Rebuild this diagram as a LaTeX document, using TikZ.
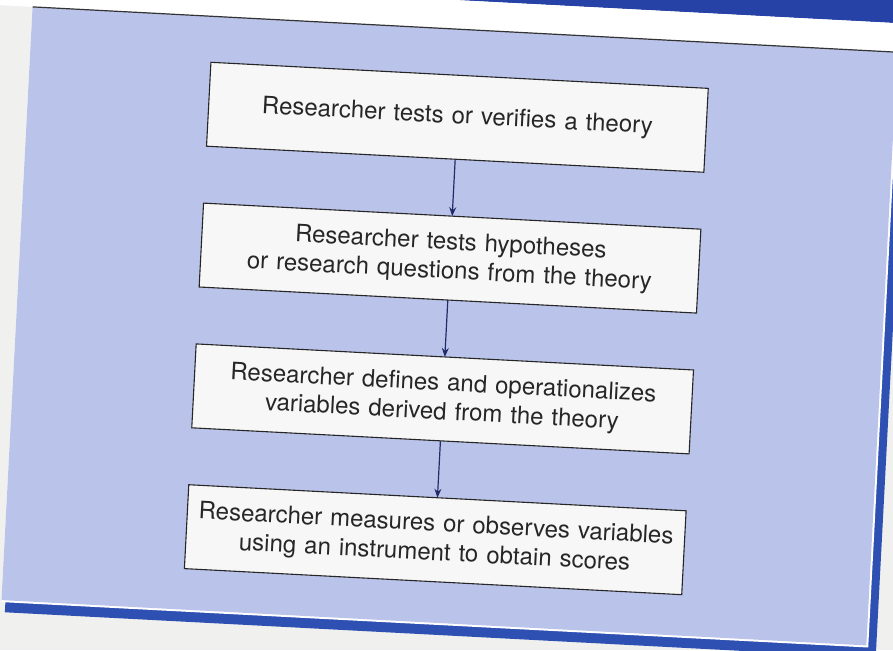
\documentclass[tikz,border=0pt]{standalone}
\usepackage{fontspec}
\setmainfont{TeX Gyre Heros}
\usetikzlibrary{arrows.meta,positioning}
\definecolor{panel}{RGB}{186,195,233}
\definecolor{frame}{RGB}{46,80,178}
\definecolor{header}{RGB}{38,66,166}
\definecolor{arrowblue}{RGB}{32,44,104}
\definecolor{page}{RGB}{240,240,238}

\begin{document}
\begin{tikzpicture}[
    x=1pt, y=1pt,
    research step/.style={align=center, text width=484pt, font=\fontsize{24}{29}\selectfont\color{black!85}, minimum width=498pt, draw=black!85, line width=1.1pt, fill=white!97!black, outer sep=0pt, minimum height=84pt},
    flow/.style={draw=arrowblue, line width=1.2pt, -{Stealth[length=9pt,width=7pt]}}
  ]
  \useasboundingbox (0,0) rectangle (893,650);
  \clip (0,0) rectangle (893,650);
  \fill[page] (0,0) rectangle (893,650);
  \begin{scope}[shift={(446.5,325)}, rotate=-3, transform shape]
  % page header, panel and its frame
  \fill[header] (-520,325) rectangle (520,420);
  \fill[white] (-520,296) rectangle (520,325);
  \fill[frame] (-426,-310) rectangle (446,296);
  \fill[white] (-430,-300) rectangle (438,296);
  \fill[panel] (-430,-298) rectangle (436,296);
  \draw[black!80, line width=1.2pt] (-430,296) -- (520,296);

  \begin{scope}[every node/.style={research step}, node distance=57pt]
  \node at (0,208) (theory) {Researcher tests or verifies a theory};
  \node [below=of theory] (hypo) {Researcher tests hypotheses\\or research questions from the theory};
  \node [below=of hypo] (vars) {Researcher defines and operationalizes\\variables derived from the theory};
  \node [below=of vars] (measure) {Researcher measures or observes variables\\using an instrument to obtain scores};
  \end{scope}

  \begin{scope}[every path/.style={flow}]
  \path (theory) -- (hypo);
  \path (hypo) -- (vars);
  \path (vars) -- (measure);
  \end{scope}
  \end{scope}
\end{tikzpicture}
\end{document}
